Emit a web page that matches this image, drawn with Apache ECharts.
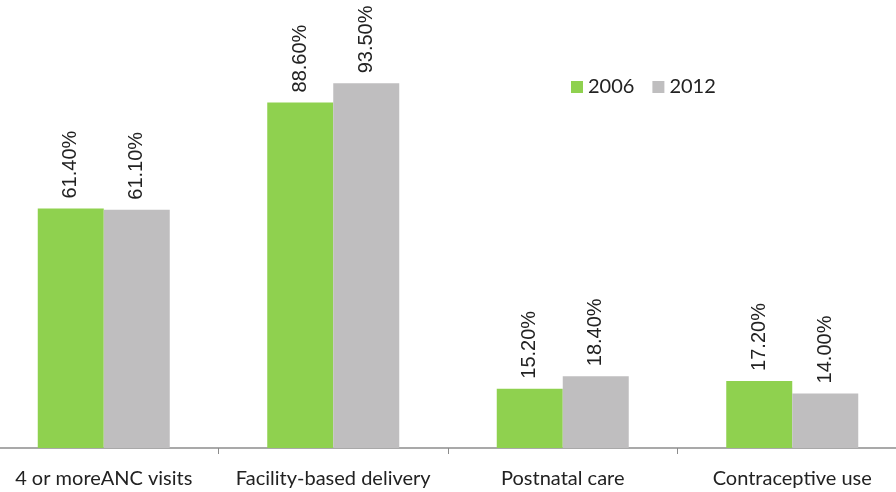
<!DOCTYPE html>
<html>
<head>
<meta charset="utf-8">
<script src="https://cdn.jsdelivr.net/npm/echarts@6/dist/echarts.min.js"></script>
<style>
  html, body { margin: 0; padding: 0; background: #fff; overflow: hidden; }
  #chart { width: 918px; height: 492px; margin-left: -11px; }
</style>
</head>
<body>
<div id="chart"></div>
<script>
let categories = ['4 or moreANC visits', 'Facility-based delivery', 'Postnatal care', 'Contraceptive use']
let values2006 = [61.4, 88.6, 15.2, 17.2]
let values2012 = [61.1, 93.5, 18.4, 14.0]

let chart = echarts.init(document.getElementById('chart'))

function pctLabel(p) {
  return p.value.toFixed(2) + '%'
}

let labelStyle = {
  show: true,
  position: 'top',
  rotate: 90,
  align: 'left',
  verticalAlign: 'middle',
  distance: 10,
  fontFamily: 'Liberation Sans, Arial, sans-serif',
  fontSize: 20,
  color: '#222',
  formatter: pctLabel
}

// chart div is 918 wide, shifted 11px left so the axis runs past both edges
let option = {
  animation: false,
  grid: { left: 0, right: 0, top: 58, bottom: 44, containLabel: false },
  legend: {
    left: 577,
    top: 72,
    itemWidth: 12,
    itemHeight: 12,
    itemGap: 18,
    textStyle: { fontFamily: 'Lato, Open Sans, sans-serif', fontSize: 20, color: '#222' },
    data: [
      { name: '2006', icon: 'rect' },
      { name: '2012', icon: 'rect' }
    ]
  },
  xAxis: {
    type: 'category',
    data: categories,
    axisLine: { lineStyle: { color: '#8c8c8c', width: 1.5 } },
    axisTick: { show: true, interval: 0, length: 6, lineStyle: { color: '#8c8c8c' } },
    axisLabel: {
      interval: 0,
      fontFamily: 'Lato, Open Sans, sans-serif',
      fontSize: 20,
      color: '#222',
      margin: 21
    }
  },
  yAxis: {
    type: 'value',
    min: 0,
    max: 100,
    show: false,
    splitLine: { show: false }
  },
  series: [
    {
      name: '2006',
      type: 'bar',
      barWidth: 66,
      barGap: '0%',
      itemStyle: { color: '#8fd14f' },
      label: labelStyle,
      data: values2006
    },
    {
      name: '2012',
      type: 'bar',
      barWidth: 66,
      barGap: '0%',
      itemStyle: { color: '#bfbebf' },
      label: labelStyle,
      data: values2012
    }
  ]
}
chart.setOption(option)
</script>
</body>
</html>
